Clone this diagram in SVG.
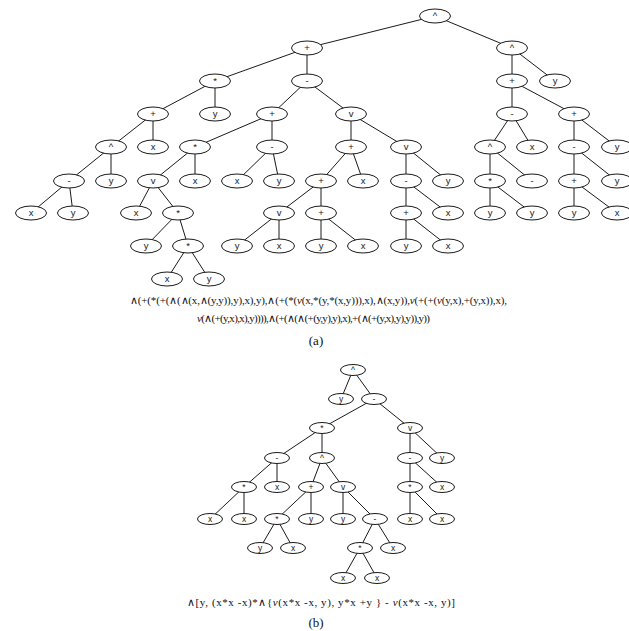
<svg xmlns="http://www.w3.org/2000/svg" width="629" height="631" viewBox="0 0 629 631">
  <style>
    .bg { fill: #ffffff; }
    .edge line { stroke: #1a1a1a; stroke-width: 1; }
    .na text, .nb text { font-family: "Liberation Sans", Arial, sans-serif; fill: #1a1a1a; text-anchor: middle; }
    .na text { font-size: 9.5px; }
    .nb text { font-size: 8.5px; }
    .expr { font-family: "Liberation Serif", "Times New Roman", serif; font-size: 11px; fill: #111111; }
    .cap { font-family: "Liberation Serif", "Times New Roman", serif; font-size: 13px; fill: #111111; text-anchor: middle; }
  </style>
  <defs>
    <ellipse id="ea" cx="0" cy="0" rx="15.5" ry="7" fill="#ffffff" stroke="#1a1a1a" stroke-width="1"/>
    <ellipse id="eb" cx="0" cy="0" rx="12.5" ry="5.5" fill="#ffffff" stroke="#1a1a1a" stroke-width="1"/>
  </defs>
  <rect class="bg" x="0" y="0" width="629" height="631"/>

  <!-- tree (a): connectors -->
  <g id="connectors-a" class="edge">
    <line x1="435" y1="16" x2="307" y2="48"/>
    <line x1="435" y1="16" x2="512" y2="48"/>
    <line x1="307" y1="48" x2="215" y2="81"/>
    <line x1="307" y1="48" x2="307" y2="81"/>
    <line x1="215" y1="81" x2="153" y2="114"/>
    <line x1="215" y1="81" x2="215" y2="114"/>
    <line x1="153" y1="114" x2="111" y2="147"/>
    <line x1="153" y1="114" x2="153" y2="147"/>
    <line x1="111" y1="147" x2="69" y2="181"/>
    <line x1="111" y1="147" x2="111" y2="181"/>
    <line x1="69" y1="181" x2="31" y2="213"/>
    <line x1="69" y1="181" x2="73" y2="213"/>
    <line x1="307" y1="81" x2="272" y2="114"/>
    <line x1="307" y1="81" x2="351" y2="114"/>
    <line x1="272" y1="114" x2="195" y2="147"/>
    <line x1="272" y1="114" x2="272" y2="147"/>
    <line x1="195" y1="147" x2="153" y2="181"/>
    <line x1="195" y1="147" x2="195" y2="181"/>
    <line x1="153" y1="181" x2="136" y2="213"/>
    <line x1="153" y1="181" x2="178" y2="213"/>
    <line x1="178" y1="213" x2="146" y2="246"/>
    <line x1="178" y1="213" x2="188" y2="246"/>
    <line x1="188" y1="246" x2="167" y2="279"/>
    <line x1="188" y1="246" x2="209" y2="279"/>
    <line x1="272" y1="147" x2="237" y2="181"/>
    <line x1="272" y1="147" x2="279" y2="181"/>
    <line x1="351" y1="114" x2="351" y2="147"/>
    <line x1="351" y1="114" x2="406" y2="147"/>
    <line x1="351" y1="147" x2="321" y2="181"/>
    <line x1="351" y1="147" x2="363" y2="181"/>
    <line x1="321" y1="181" x2="279" y2="213"/>
    <line x1="321" y1="181" x2="321" y2="213"/>
    <line x1="279" y1="213" x2="237" y2="246"/>
    <line x1="279" y1="213" x2="279" y2="246"/>
    <line x1="321" y1="213" x2="321" y2="246"/>
    <line x1="321" y1="213" x2="363" y2="246"/>
    <line x1="406" y1="147" x2="406" y2="181"/>
    <line x1="406" y1="147" x2="448" y2="181"/>
    <line x1="406" y1="181" x2="406" y2="213"/>
    <line x1="406" y1="181" x2="448" y2="213"/>
    <line x1="406" y1="213" x2="406" y2="246"/>
    <line x1="406" y1="213" x2="448" y2="246"/>
    <line x1="512" y1="48" x2="512" y2="81"/>
    <line x1="512" y1="48" x2="555" y2="81"/>
    <line x1="512" y1="81" x2="512" y2="114"/>
    <line x1="512" y1="81" x2="574" y2="114"/>
    <line x1="512" y1="114" x2="490" y2="147"/>
    <line x1="512" y1="114" x2="532" y2="147"/>
    <line x1="490" y1="147" x2="490" y2="181"/>
    <line x1="490" y1="147" x2="532" y2="181"/>
    <line x1="490" y1="181" x2="490" y2="213"/>
    <line x1="490" y1="181" x2="532" y2="213"/>
    <line x1="574" y1="114" x2="574" y2="147"/>
    <line x1="574" y1="114" x2="617" y2="147"/>
    <line x1="574" y1="147" x2="574" y2="181"/>
    <line x1="574" y1="147" x2="617" y2="181"/>
    <line x1="574" y1="181" x2="574" y2="213"/>
    <line x1="574" y1="181" x2="617" y2="213"/>
  </g>

  <!-- tree (a): nodes -->
  <g class="na">
    <g id="a0" transform="translate(435,16)"><use href="#ea"/><text y="3">^</text></g>
    <g id="a1" transform="translate(307,48)"><use href="#ea"/><text y="3">+</text></g>
    <g id="a2" transform="translate(512,48)"><use href="#ea"/><text y="3">^</text></g>
    <g id="a3" transform="translate(215,81)"><use href="#ea"/><text y="3">*</text></g>
    <g id="a4" transform="translate(307,81)"><use href="#ea"/><text y="3">-</text></g>
    <g id="a5" transform="translate(512,81)"><use href="#ea"/><text y="3">+</text></g>
    <g id="a6" transform="translate(555,81)"><use href="#ea"/><text y="3">y</text></g>
    <g id="a7" transform="translate(153,114)"><use href="#ea"/><text y="3">+</text></g>
    <g id="a8" transform="translate(215,114)"><use href="#ea"/><text y="3">y</text></g>
    <g id="a9" transform="translate(272,114)"><use href="#ea"/><text y="3">+</text></g>
    <g id="a10" transform="translate(351,114)"><use href="#ea"/><text y="3">v</text></g>
    <g id="a11" transform="translate(512,114)"><use href="#ea"/><text y="3">-</text></g>
    <g id="a12" transform="translate(574,114)"><use href="#ea"/><text y="3">+</text></g>
    <g id="a13" transform="translate(111,147)"><use href="#ea"/><text y="3">^</text></g>
    <g id="a14" transform="translate(153,147)"><use href="#ea"/><text y="3">x</text></g>
    <g id="a15" transform="translate(195,147)"><use href="#ea"/><text y="3">*</text></g>
    <g id="a16" transform="translate(272,147)"><use href="#ea"/><text y="3">-</text></g>
    <g id="a17" transform="translate(351,147)"><use href="#ea"/><text y="3">+</text></g>
    <g id="a18" transform="translate(406,147)"><use href="#ea"/><text y="3">v</text></g>
    <g id="a19" transform="translate(490,147)"><use href="#ea"/><text y="3">^</text></g>
    <g id="a20" transform="translate(532,147)"><use href="#ea"/><text y="3">x</text></g>
    <g id="a21" transform="translate(574,147)"><use href="#ea"/><text y="3">-</text></g>
    <g id="a22" transform="translate(617,147)"><use href="#ea"/><text y="3">y</text></g>
    <g id="a23" transform="translate(69,181)"><use href="#ea"/><text y="3">-</text></g>
    <g id="a24" transform="translate(111,181)"><use href="#ea"/><text y="3">y</text></g>
    <g id="a25" transform="translate(153,181)"><use href="#ea"/><text y="3">v</text></g>
    <g id="a26" transform="translate(195,181)"><use href="#ea"/><text y="3">x</text></g>
    <g id="a27" transform="translate(237,181)"><use href="#ea"/><text y="3">x</text></g>
    <g id="a28" transform="translate(279,181)"><use href="#ea"/><text y="3">y</text></g>
    <g id="a29" transform="translate(321,181)"><use href="#ea"/><text y="3">+</text></g>
    <g id="a30" transform="translate(363,181)"><use href="#ea"/><text y="3">x</text></g>
    <g id="a31" transform="translate(406,181)"><use href="#ea"/><text y="3">-</text></g>
    <g id="a32" transform="translate(448,181)"><use href="#ea"/><text y="3">y</text></g>
    <g id="a33" transform="translate(490,181)"><use href="#ea"/><text y="3">*</text></g>
    <g id="a34" transform="translate(532,181)"><use href="#ea"/><text y="3">-</text></g>
    <g id="a35" transform="translate(574,181)"><use href="#ea"/><text y="3">+</text></g>
    <g id="a36" transform="translate(617,181)"><use href="#ea"/><text y="3">y</text></g>
    <g id="a37" transform="translate(31,213)"><use href="#ea"/><text y="3">x</text></g>
    <g id="a38" transform="translate(73,213)"><use href="#ea"/><text y="3">y</text></g>
    <g id="a39" transform="translate(136,213)"><use href="#ea"/><text y="3">x</text></g>
    <g id="a40" transform="translate(178,213)"><use href="#ea"/><text y="3">*</text></g>
    <g id="a41" transform="translate(279,213)"><use href="#ea"/><text y="3">v</text></g>
    <g id="a42" transform="translate(321,213)"><use href="#ea"/><text y="3">+</text></g>
    <g id="a43" transform="translate(406,213)"><use href="#ea"/><text y="3">+</text></g>
    <g id="a44" transform="translate(448,213)"><use href="#ea"/><text y="3">x</text></g>
    <g id="a45" transform="translate(490,213)"><use href="#ea"/><text y="3">y</text></g>
    <g id="a46" transform="translate(532,213)"><use href="#ea"/><text y="3">y</text></g>
    <g id="a47" transform="translate(574,213)"><use href="#ea"/><text y="3">y</text></g>
    <g id="a48" transform="translate(617,213)"><use href="#ea"/><text y="3">x</text></g>
    <g id="a49" transform="translate(146,246)"><use href="#ea"/><text y="3">y</text></g>
    <g id="a50" transform="translate(188,246)"><use href="#ea"/><text y="3">*</text></g>
    <g id="a51" transform="translate(237,246)"><use href="#ea"/><text y="3">y</text></g>
    <g id="a52" transform="translate(279,246)"><use href="#ea"/><text y="3">x</text></g>
    <g id="a53" transform="translate(321,246)"><use href="#ea"/><text y="3">y</text></g>
    <g id="a54" transform="translate(363,246)"><use href="#ea"/><text y="3">x</text></g>
    <g id="a55" transform="translate(406,246)"><use href="#ea"/><text y="3">y</text></g>
    <g id="a56" transform="translate(448,246)"><use href="#ea"/><text y="3">x</text></g>
    <g id="a57" transform="translate(167,279)"><use href="#ea"/><text y="3">x</text></g>
    <g id="a58" transform="translate(209,279)"><use href="#ea"/><text y="3">y</text></g>
  </g>

  <!-- expression of tree (a) -->
  <text class="expr" x="130" y="304" textLength="377" lengthAdjust="spacing">∧(+(*(+(∧(∧(x,∧(y,y)),y),x),y),∧(+(*(<tspan font-style="italic">v</tspan>(x,*(y,*(x,y))),x),∧(x,y)),<tspan font-style="italic">v</tspan>(+(+(<tspan font-style="italic">v</tspan>(y,x),+(y,x)),x),</text>
  <text class="expr" x="197" y="322" textLength="233" lengthAdjust="spacing"><tspan font-style="italic">v</tspan>(∧(+(y,x),x),y)))),∧(+(∧(∧(+(y,y),y),x),+(∧(+(y,x),y),y)),y))</text>
  <text class="cap" x="316" y="345">(a)</text>

  <!-- tree (b): connectors -->
  <g id="connectors-b" class="edge">
    <line x1="353" y1="370" x2="341" y2="399"/>
    <line x1="353" y1="370" x2="374" y2="399"/>
    <line x1="374" y1="399" x2="322" y2="428"/>
    <line x1="374" y1="399" x2="410" y2="428"/>
    <line x1="322" y1="428" x2="277" y2="458"/>
    <line x1="322" y1="428" x2="322" y2="458"/>
    <line x1="277" y1="458" x2="244" y2="487"/>
    <line x1="277" y1="458" x2="277" y2="487"/>
    <line x1="244" y1="487" x2="210" y2="519"/>
    <line x1="244" y1="487" x2="244" y2="519"/>
    <line x1="322" y1="458" x2="311" y2="487"/>
    <line x1="322" y1="458" x2="343" y2="487"/>
    <line x1="311" y1="487" x2="277" y2="519"/>
    <line x1="311" y1="487" x2="311" y2="519"/>
    <line x1="277" y1="519" x2="260" y2="548"/>
    <line x1="277" y1="519" x2="293" y2="548"/>
    <line x1="343" y1="487" x2="343" y2="519"/>
    <line x1="343" y1="487" x2="375" y2="519"/>
    <line x1="375" y1="519" x2="360" y2="548"/>
    <line x1="375" y1="519" x2="393" y2="548"/>
    <line x1="360" y1="548" x2="343" y2="578"/>
    <line x1="360" y1="548" x2="377" y2="578"/>
    <line x1="410" y1="428" x2="410" y2="458"/>
    <line x1="410" y1="428" x2="442" y2="458"/>
    <line x1="410" y1="458" x2="410" y2="487"/>
    <line x1="410" y1="458" x2="442" y2="487"/>
    <line x1="410" y1="487" x2="410" y2="519"/>
    <line x1="410" y1="487" x2="442" y2="519"/>
  </g>

  <!-- tree (b): nodes -->
  <g class="nb">
    <g id="b0" transform="translate(353,370)"><use href="#eb"/><text y="3">^</text></g>
    <g id="b1" transform="translate(341,399)"><use href="#eb"/><text y="3">y</text></g>
    <g id="b2" transform="translate(374,399)"><use href="#eb"/><text y="3">-</text></g>
    <g id="b3" transform="translate(322,428)"><use href="#eb"/><text y="3">*</text></g>
    <g id="b4" transform="translate(410,428)"><use href="#eb"/><text y="3">v</text></g>
    <g id="b5" transform="translate(277,458)"><use href="#eb"/><text y="3">-</text></g>
    <g id="b6" transform="translate(322,458)"><use href="#eb"/><text y="3">^</text></g>
    <g id="b7" transform="translate(410,458)"><use href="#eb"/><text y="3">-</text></g>
    <g id="b8" transform="translate(442,458)"><use href="#eb"/><text y="3">y</text></g>
    <g id="b9" transform="translate(244,487)"><use href="#eb"/><text y="3">*</text></g>
    <g id="b10" transform="translate(277,487)"><use href="#eb"/><text y="3">x</text></g>
    <g id="b11" transform="translate(311,487)"><use href="#eb"/><text y="3">+</text></g>
    <g id="b12" transform="translate(343,487)"><use href="#eb"/><text y="3">v</text></g>
    <g id="b13" transform="translate(410,487)"><use href="#eb"/><text y="3">*</text></g>
    <g id="b14" transform="translate(442,487)"><use href="#eb"/><text y="3">x</text></g>
    <g id="b15" transform="translate(210,519)"><use href="#eb"/><text y="3">x</text></g>
    <g id="b16" transform="translate(244,519)"><use href="#eb"/><text y="3">x</text></g>
    <g id="b17" transform="translate(277,519)"><use href="#eb"/><text y="3">*</text></g>
    <g id="b18" transform="translate(311,519)"><use href="#eb"/><text y="3">y</text></g>
    <g id="b19" transform="translate(343,519)"><use href="#eb"/><text y="3">y</text></g>
    <g id="b20" transform="translate(375,519)"><use href="#eb"/><text y="3">-</text></g>
    <g id="b21" transform="translate(410,519)"><use href="#eb"/><text y="3">x</text></g>
    <g id="b22" transform="translate(442,519)"><use href="#eb"/><text y="3">x</text></g>
    <g id="b23" transform="translate(260,548)"><use href="#eb"/><text y="3">y</text></g>
    <g id="b24" transform="translate(293,548)"><use href="#eb"/><text y="3">x</text></g>
    <g id="b25" transform="translate(360,548)"><use href="#eb"/><text y="3">*</text></g>
    <g id="b26" transform="translate(393,548)"><use href="#eb"/><text y="3">x</text></g>
    <g id="b27" transform="translate(343,578)"><use href="#eb"/><text y="3">x</text></g>
    <g id="b28" transform="translate(377,578)"><use href="#eb"/><text y="3">x</text></g>
  </g>

  <!-- expression of tree (b) -->
  <text class="expr" x="187" y="606" textLength="268" lengthAdjust="spacing">∧[y, (x*x -x)*∧{<tspan font-style="italic">v</tspan>(x*x -x, y), y*x +y } - <tspan font-style="italic">v</tspan>(x*x -x, y)]</text>
  <text class="cap" x="316" y="627">(b)</text>
</svg>
